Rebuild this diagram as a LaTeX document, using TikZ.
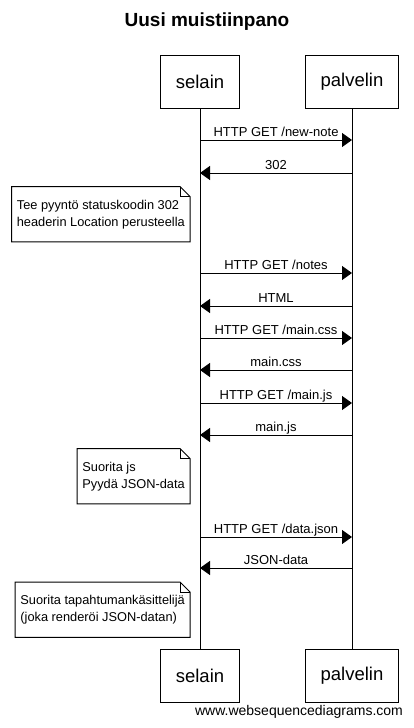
\documentclass[tikz,border=0pt]{standalone}
\usepackage{fontspec}
\setmainfont{Liberation Sans}
\usepackage{tikz}
\usetikzlibrary{arrows.meta,positioning}
\definecolor{ink}{HTML}{000000}
\tikzset{
  actor/.style={draw=ink,fill=white,line width=1pt,
                minimum height=53pt,inner xsep=15pt,
                font=\fontsize{18.5}{20}\selectfont},
  lifeline/.style={draw=ink,line width=1pt},
  msg/.style={-{Triangle[length=10pt,width=14pt]},line width=1pt,color=ink},
  msglbl/.style={anchor=base,yshift=4pt,inner sep=0pt,
                 font=\fontsize{13}{15}\selectfont},
  notecard/.style={anchor=north east,align=left,inner xsep=5pt,
                   minimum height=55pt,
                   font=\fontsize{12.8}{17}\selectfont},
  noteline/.style={draw=ink,line width=1pt,line join=miter}
}
% folded-corner outline round a note node
\newcommand{\notefold}[1]{%
  \draw[noteline] (#1.south west) -- (#1.north west)
    -- ([xshift=-10pt]#1.north east) -- ([yshift=-10pt]#1.north east)
    -- (#1.south east) -- cycle;
  \draw[noteline] ([xshift=-10pt]#1.north east)
    -- ([xshift=-10pt,yshift=-10pt]#1.north east)
    -- ([yshift=-10pt]#1.north east);}
\begin{document}
\begin{tikzpicture}[x=1pt,y=-1pt]
  \fill[white] (0,0) rectangle (414,728);
  \useasboundingbox (0,0) rectangle (414,728);
  \node[font=\fontsize{19}{21}\selectfont\bfseries] (title) at (207,22) {Uusi muistiinpano};
  % participants
  \node[actor] (selTop) at (200,81.5) {selain};
  \node[actor] (palTop) at (352,81.5) {palvelin};
  \node[actor] (selBot) at (200,676) {selain};
  \node[actor] (palBot) at (352,676) {palvelin};
  \draw[lifeline] (selTop) -- (selBot);
  \draw[lifeline] (palTop) -- (palBot);
  % message points on the lifelines
  \foreach \i/\y in {1/140,2/173,3/273,4/306,5/338,6/370,7/403,8/435,9/537,10/568}{
    \coordinate (s\i) at (200,\y);
    \coordinate (p\i) at (352,\y);
  }
  \draw[msg] (s1) -- node[msglbl] {HTTP GET /new-note} (p1);
  \draw[msg] (p2) -- node[msglbl] {302} (s2);
  \node[notecard] (n1) at (190,186.5) {Tee pyyntö statuskoodin 302\\headerin Location perusteella};
  \notefold{n1}
  \draw[msg] (s3) -- node[msglbl] {HTTP GET /notes} (p3);
  \draw[msg] (p4) -- node[msglbl] {HTML} (s4);
  \draw[msg] (s5) -- node[msglbl] {HTTP GET /main.css} (p5);
  \draw[msg] (p6) -- node[msglbl] {main.css} (s6);
  \draw[msg] (s7) -- node[msglbl] {HTTP GET /main.js} (p7);
  \draw[msg] (p8) -- node[msglbl] {main.js} (s8);
  \node[notecard] (n2) at (190,448.5) {Suorita js\\Pyydä JSON-data};
  \notefold{n2}
  \draw[msg] (s9) -- node[msglbl] {HTTP GET /data.json} (p9);
  \draw[msg] (p10) -- node[msglbl] {JSON-data} (s10);
  \node[notecard] (n3) at (190,582) {Suorita tapahtumankäsittelijä\\(joka renderöi JSON-datan)};
  \notefold{n3}
  \node[font=\fontsize{14}{16}\selectfont] (wsd) at (299,712) {www.websequencediagrams.com};
\end{tikzpicture}
\end{document}
